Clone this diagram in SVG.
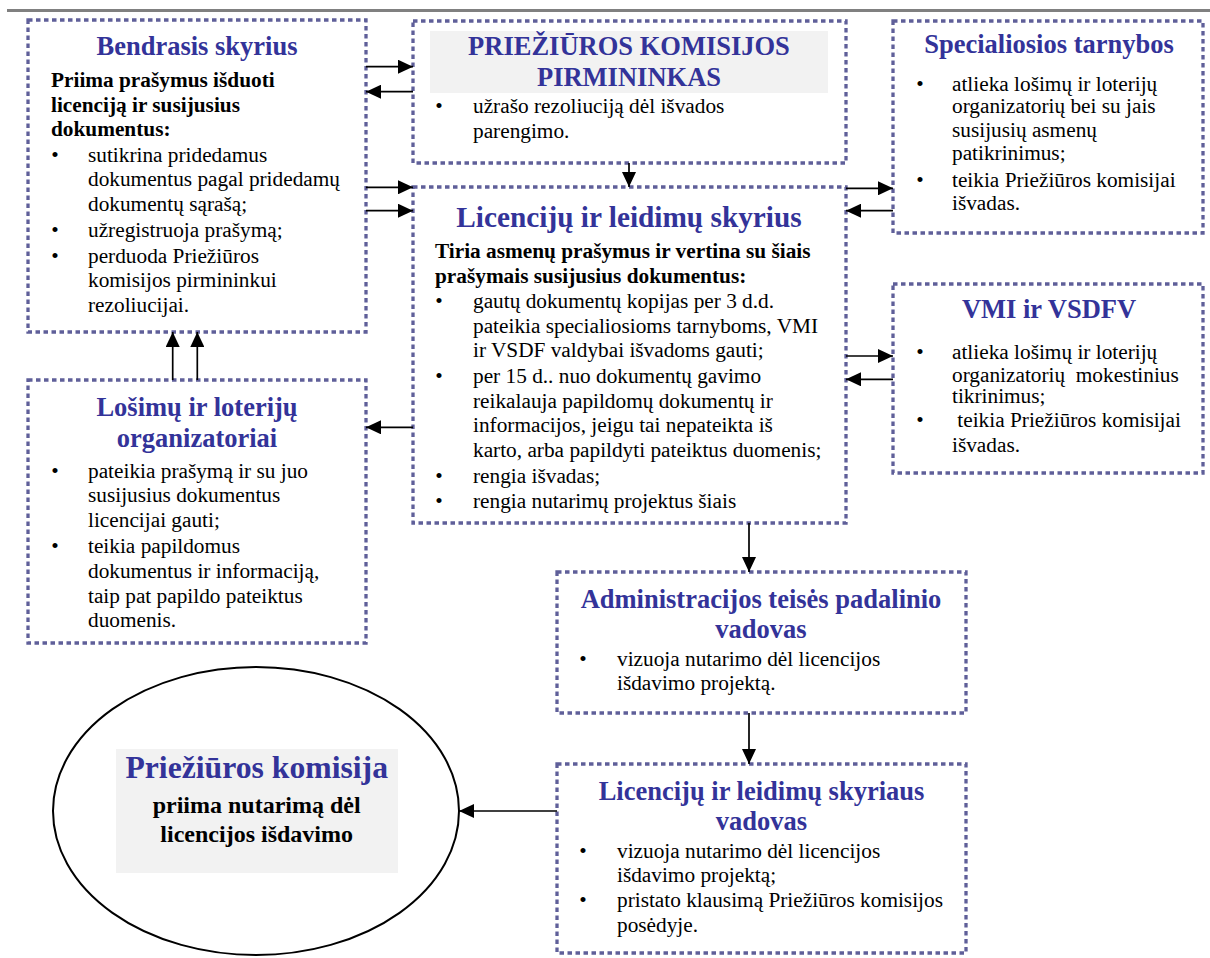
<svg xmlns="http://www.w3.org/2000/svg" width="1210" height="958" viewBox="0 0 1210 958" font-family="'Liberation Serif', 'Times New Roman', Times, 'DejaVu Serif', serif">
<style>
.box{fill:#fff;stroke:#5f5f99;stroke-width:3.3;stroke-dasharray:4.5 3.5}
.hl{fill:#f2f2f2}
text{font-family:'Liberation Serif','Times New Roman',Times,'DejaVu Serif',serif}
.t{font-size:26.5px;font-weight:bold;fill:#333399;text-anchor:middle}
.b{font-size:21.3px;font-weight:bold;fill:#000}
.r{font-size:21.3px;fill:#000}
.bu{font-size:21.3px;fill:#000;text-anchor:middle}
.c{fill:none;stroke:#000;stroke-width:1.7;marker-end:url(#ah)}
</style>
<defs>
<marker id="ah" markerUnits="userSpaceOnUse" markerWidth="16" markerHeight="14" refX="15" refY="7" orient="auto"><path d="M0,0 L15,7 L0,14 z" fill="#000"/></marker>
</defs>
<rect width="1210" height="958" fill="#fff"/>
<line x1="7" y1="10.5" x2="1210" y2="10.5" stroke="#808080" stroke-width="3"/>

<g id="bendrasis">
<rect class="box" x="28" y="20" width="338" height="312"/>
<text class="t" x="197" y="55">Bendrasis skyrius</text>
<text class="b" x="51" y="87.3">Priima prašymus išduoti</text>
<text class="b" x="51" y="111.7">licenciją ir susijusius</text>
<text class="b" x="51" y="136">dokumentus:</text>
<text class="bu" x="55" y="161.7">•</text>
<text class="bu" x="55" y="237">•</text>
<text class="bu" x="55" y="262.7">•</text>
<text class="r" x="88" y="161.7">sutikrina pridedamus</text>
<text class="r" x="88" y="186">dokumentus pagal pridedamų</text>
<text class="r" x="88" y="210.7">dokumentų sąrašą;</text>
<text class="r" x="88" y="237">užregistruoja prašymą;</text>
<text class="r" x="88" y="262.7">perduoda Priežiūros</text>
<text class="r" x="88" y="287">komisijos pirmininkui</text>
<text class="r" x="88" y="312">rezoliucijai.</text>
</g>

<g id="pirmininkas">
<rect class="box" x="413" y="21" width="433" height="142"/>
<rect class="hl" x="430" y="31" width="398" height="62"/>
<text class="t" x="629" y="55">PRIEŽIŪROS KOMISIJOS</text>
<text class="t" x="629" y="86">PIRMININKAS</text>
<text class="bu" x="439" y="113">•</text>
<text class="r" x="473" y="113">užrašo rezoliuciją dėl išvados</text>
<text class="r" x="473" y="138">parengimo.</text>
</g>

<g id="specialiosios">
<rect class="box" x="893" y="21" width="310" height="212"/>
<text class="t" x="1049" y="53">Specialiosios tarnybos</text>
<text class="bu" x="920" y="90.7">•</text>
<text class="bu" x="920" y="186.7">•</text>
<text class="r" x="952" y="90.7">atlieka lošimų ir loterijų</text>
<text class="r" x="952" y="113.3">organizatorių bei su jais</text>
<text class="r" x="952" y="136.7">susijusių asmenų</text>
<text class="r" x="952" y="160">patikrinimus;</text>
<text class="r" x="952" y="186.7">teikia Priežiūros komisijai</text>
<text class="r" x="952" y="210">išvadas.</text>
</g>

<g id="licencijos">
<rect class="box" x="413" y="187" width="433" height="336"/>
<text class="t" x="629" y="226.7" style="font-size:29.3px">Licencijų ir leidimų skyrius</text>
<text class="b" x="435" y="258.3">Tiria asmenų prašymus ir vertina su šiais</text>
<text class="b" x="435" y="282.7">prašymais susijusius dokumentus:</text>
<text class="bu" x="439" y="308.3">•</text>
<text class="bu" x="439" y="382.7">•</text>
<text class="bu" x="439" y="482.7">•</text>
<text class="bu" x="439" y="508.3">•</text>
<text class="r" x="473" y="308.3">gautų dokumentų kopijas per 3 d.d.</text>
<text class="r" x="473" y="333.3">pateikia specialiosioms tarnyboms, VMI</text>
<text class="r" x="473" y="356.7">ir VSDF valdybai išvadoms gauti;</text>
<text class="r" x="473" y="382.7">per 15 d.. nuo dokumentų gavimo</text>
<text class="r" x="473" y="407.7">reikalauja papildomų dokumentų ir</text>
<text class="r" x="473" y="432.3">informacijos, jeigu tai nepateikta iš</text>
<text class="r" x="473" y="456.7">karto, arba papildyti pateiktus duomenis;</text>
<text class="r" x="473" y="482.7">rengia išvadas;</text>
<text class="r" x="473" y="508.3">rengia nutarimų projektus šiais</text>
</g>

<g id="vmi">
<rect class="box" x="893" y="284" width="310" height="189"/>
<text class="t" x="1049" y="317.7">VMI ir VSDFV</text>
<text class="bu" x="920" y="359.3">•</text>
<text class="bu" x="920" y="427">•</text>
<text class="r" x="952" y="359.3">atlieka lošimų ir loterijų</text>
<text class="r" x="952" y="381.7" xml:space="preserve">organizatorių  mokestinius</text>
<text class="r" x="952" y="403.3">tikrinimus;</text>
<text class="r" x="952" y="427" xml:space="preserve"> teikia Priežiūros komisijai</text>
<text class="r" x="952" y="451.7">išvadas.</text>
</g>

<g id="organizatoriai">
<rect class="box" x="28" y="380" width="338" height="263"/>
<text class="t" x="197" y="416">Lošimų ir loterijų</text>
<text class="t" x="197" y="446.7">organizatoriai</text>
<text class="bu" x="55" y="478.3">•</text>
<text class="bu" x="55" y="553.3">•</text>
<text class="r" x="88" y="478.3">pateikia prašymą ir su juo</text>
<text class="r" x="88" y="502.3">susijusius dokumentus</text>
<text class="r" x="88" y="526.7">licencijai gauti;</text>
<text class="r" x="88" y="553.3">teikia papildomus</text>
<text class="r" x="88" y="578.3">dokumentus ir informaciją,</text>
<text class="r" x="88" y="602.7">taip pat papildo pateiktus</text>
<text class="r" x="88" y="626.7">duomenis.</text>
</g>

<g id="administracija">
<rect class="box" x="557" y="572" width="409" height="141"/>
<text class="t" x="761" y="608.3">Administracijos teisės padalinio</text>
<text class="t" x="761" y="638.3">vadovas</text>
<text class="bu" x="583" y="665.7">•</text>
<text class="r" x="617" y="665.7">vizuoja nutarimo dėl licencijos</text>
<text class="r" x="617" y="690">išdavimo projektą.</text>
</g>

<g id="skyriaus-vadovas">
<rect class="box" x="557" y="764" width="409" height="189"/>
<text class="t" x="761.5" y="800">Licencijų ir leidimų skyriaus</text>
<text class="t" x="761.5" y="830">vadovas</text>
<text class="bu" x="583" y="858.3">•</text>
<text class="bu" x="583" y="906.7">•</text>
<text class="r" x="617" y="858.3">vizuoja nutarimo dėl licencijos</text>
<text class="r" x="617" y="881.7">išdavimo projektą;</text>
<text class="r" x="617" y="906.7">pristato klausimą Priežiūros komisijos</text>
<text class="r" x="617" y="931.7">posėdyje.</text>
</g>

<g id="komisija">
<ellipse cx="256" cy="811" rx="203" ry="144" fill="#fff" stroke="#000" stroke-width="2"/>
<rect class="hl" x="116" y="749" width="282" height="124"/>
<text class="t" x="256.7" y="778.3" style="font-size:31.7px">Priežiūros komisija</text>
<text x="256.7" y="813.3" style="font-size:24px;font-weight:bold;text-anchor:middle">priima nutarimą dėl</text>
<text x="256.7" y="841.7" style="font-size:24px;font-weight:bold;text-anchor:middle">licencijos išdavimo</text>
</g>

<g id="connectors">
<path class="c" d="M366,66.7 H413"/>
<path class="c" d="M413,91.7 H366"/>
<path class="c" d="M366,187.3 H413"/>
<path class="c" d="M366,210.7 H413"/>
<path class="c" d="M629,163 V187"/>
<path class="c" d="M846,188.3 H893"/>
<path class="c" d="M893,210.7 H846"/>
<path class="c" d="M846,356 H893"/>
<path class="c" d="M893,379.3 H846"/>
<path class="c" d="M172.7,380 V332"/>
<path class="c" d="M197.3,380 V332"/>
<path class="c" d="M413,427.3 H366"/>
<path class="c" d="M749,523 V572"/>
<path class="c" d="M749,713 V764"/>
<path class="c" d="M557,811 H459"/>
</g>
</svg>
